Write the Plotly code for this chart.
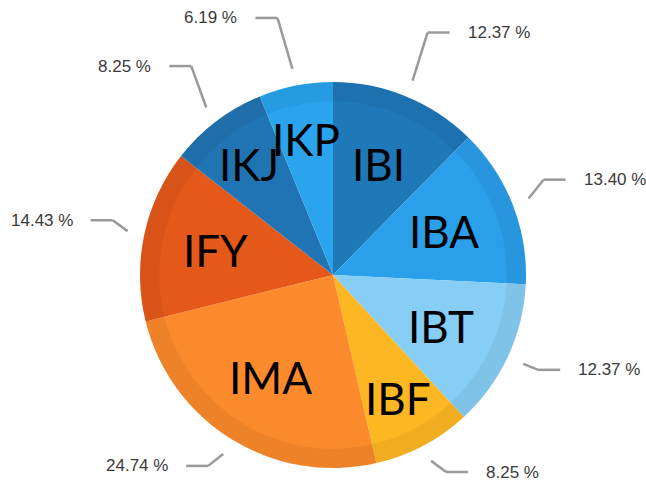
import math
import plotly.graph_objects as go

# ---- data ----
categories = ["IBI", "IBA", "IBT", "IBF", "IMA", "IFY", "IKJ", "IKP"]
counts = [12, 13, 12, 8, 24, 14, 8, 6]
colors = ["#1f78b8", "#2a9fea", "#86cef5", "#fdb722", "#fb8a2c", "#e4581a", "#2174b4", "#2aa4ee"]

W, H = 646, 491
CX, CY, R = 333, 275, 193  # pie centre / radius in pixels

total = sum(counts)
pcts = [c / total * 100 for c in counts]

def px(x):
    return x / W

def py(y):
    return 1 - y / H

dom_x = [px(CX - R), px(CX + R)]
dom_y = [py(CY + R), py(CY - R)]

fig = go.Figure()
fig.add_trace(go.Pie(
    labels=categories, values=counts, sort=False, direction="clockwise", rotation=0,
    marker=dict(colors=colors, line=dict(width=0)),
    textinfo="none", hoverinfo="label+percent", showlegend=False,
    domain=dict(x=dom_x, y=dom_y),
))
# subtle rim shading
fig.add_trace(go.Pie(
    labels=categories, values=counts, sort=False, direction="clockwise", rotation=0,
    hole=0.9,
    marker=dict(colors=["rgba(0,0,0,0.05)"] * len(counts), line=dict(width=0)),
    textinfo="none", hoverinfo="skip", showlegend=False,
    domain=dict(x=dom_x, y=dom_y),
))

annotations = []
shapes = []
cum = 0.0
for cat, p in zip(categories, pcts):
    mid = (cum + p / 2) / 100 * 2 * math.pi
    cum += p
    s, c = math.sin(mid), math.cos(mid)
    # inside category label (smaller slices pushed a little further out)
    rl = R * (0.62 + (0.1 if p < 10 else 0.0))
    annotations.append(dict(
        x=px(CX + rl * s), y=py(CY - rl * c), xref="paper", yref="paper",
        xanchor="center", yanchor="middle",
        text=cat, showarrow=False,
        font=dict(family="Lato, Carlito, Calibri, sans-serif", size=44, color="#000000"),
    ))
    # connector
    sx, sy = CX + 210 * s, CY - 210 * c
    k = 52 if c > 0 else 14
    ly = min(sy - k * c, 472)
    sgn = 1 if s > 0 else -1
    ex = sx + sgn * 15
    hx = ex + sgn * 22
    line = dict(color="#9a9a9a", width=2.5)
    shapes.append(dict(type="line", xref="paper", yref="paper",
                       x0=px(sx), y0=py(sy), x1=px(ex), y1=py(ly), line=line))
    shapes.append(dict(type="line", xref="paper", yref="paper",
                       x0=px(ex), y0=py(ly), x1=px(hx), y1=py(ly), line=line))
    annotations.append(dict(
        x=px(hx + sgn * 16), y=py(ly), xref="paper", yref="paper",
        text=f"{p:.2f} %", showarrow=False,
        xanchor="left" if sgn > 0 else "right", yanchor="middle",
        font=dict(family="Liberation Sans, Arial, sans-serif", size=17, color="#3a3a3a"),
    ))

fig.update_layout(
    width=W, height=H,
    margin=dict(l=0, r=0, t=0, b=0),
    paper_bgcolor="white", plot_bgcolor="white",
    annotations=annotations, shapes=shapes,
)

fig.write_html(
    "out.html",
    config={"displayModeBar": False},
    post_script="document.body.style.margin='0';document.body.style.overflow='hidden';",
)
